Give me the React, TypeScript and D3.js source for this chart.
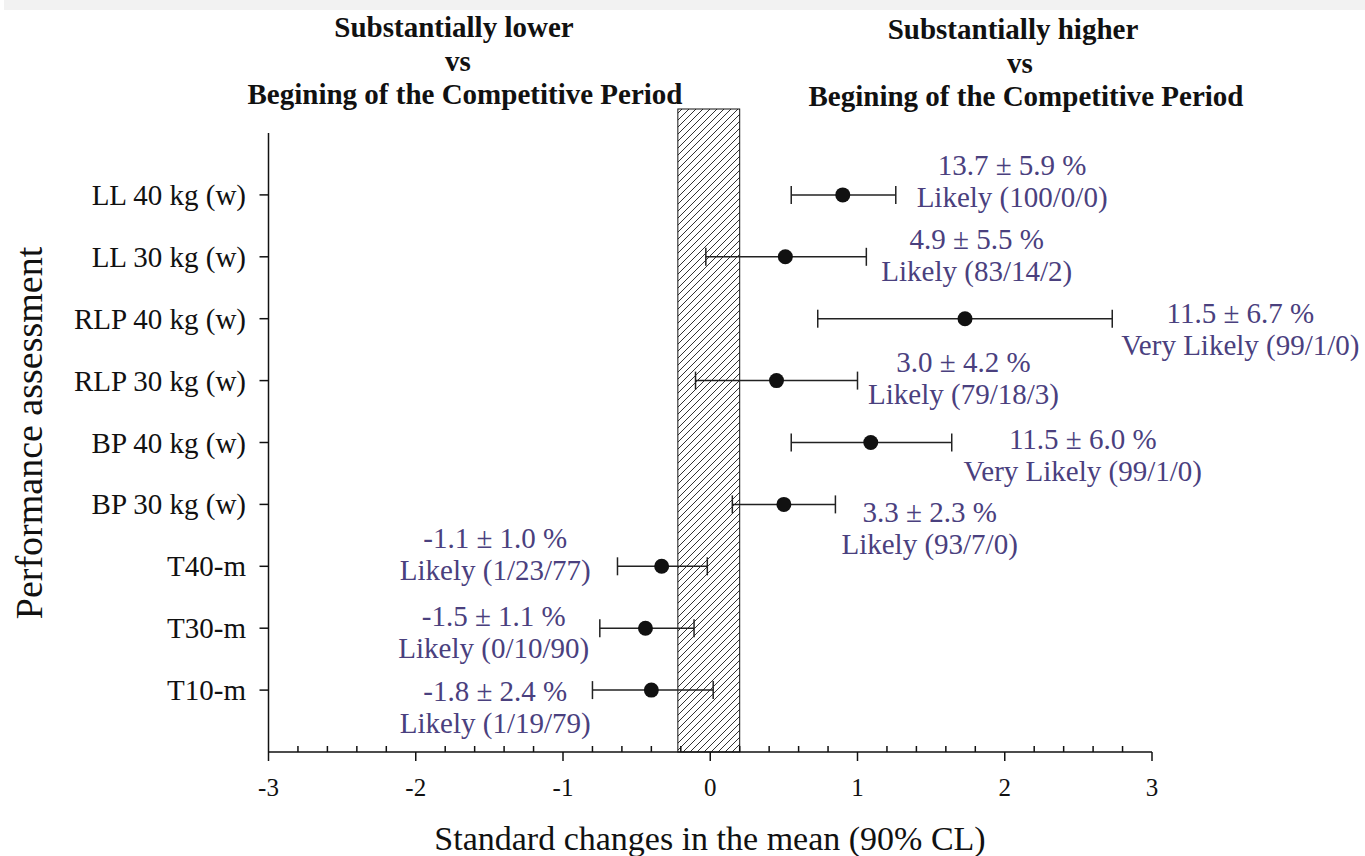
import React from 'react';
import * as d3 from 'd3';

// performance tests, top to bottom
const categories = [
  'LL 40 kg (w)',
  'LL 30 kg (w)',
  'RLP 40 kg (w)',
  'RLP 30 kg (w)',
  'BP 40 kg (w)',
  'BP 30 kg (w)',
  'T40-m',
  'T30-m',
  'T10-m',
];

// standardised change and 90% CL limits
const means = [0.9, 0.51, 1.73, 0.45, 1.09, 0.5, -0.33, -0.44, -0.4];
const lower = [0.55, -0.03, 0.73, -0.1, 0.55, 0.15, -0.63, -0.75, -0.8];
const upper = [1.26, 1.06, 2.73, 1.0, 1.64, 0.85, -0.02, -0.11, 0.02];

const effects = [
  '13.7 ± 5.9 %',
  '4.9 ± 5.5 %',
  '11.5 ± 6.7 %',
  '3.0 ± 4.2 %',
  '11.5 ± 6.0 %',
  '3.3 ± 2.3 %',
  '-1.1 ± 1.0 %',
  '-1.5 ± 1.1 %',
  '-1.8 ± 2.4 %',
];
const inferences = [
  'Likely (100/0/0)',
  'Likely (83/14/2)',
  'Very Likely (99/1/0)',
  'Likely (79/18/3)',
  'Very Likely (99/1/0)',
  'Likely (93/7/0)',
  'Likely (1/23/77)',
  'Likely (0/10/90)',
  'Likely (1/19/79)',
];

// where each note sits (x in data units, y shift in category steps)
const noteX = [2.05, 1.81, 3.6, 1.72, 2.53, 1.49, -1.46, -1.47, -1.46];
const noteShift = [-0.48, -0.29, -0.09, -0.3, -0.05, 0.12, -0.46, -0.2, 0.01];

const xTicks = [-3, -2, -1, 0, 1, 2, 3];
const trivialZone = [-0.22, 0.2];

const W = 1365;
const H = 856;
const serif = '"Liberation Serif", "Times New Roman", serif';
const noteColor = '#4a407e';

export default function App() {
  const x = d3.scaleLinear().domain([-3, 3]).range([268.5, 1152]);
  const y = d3.scalePoint<string>().domain(categories).range([133, 752]).padding(1);
  const step = y.step();
  const top = 133;
  const bottom = 752;

  const minor = d3.range(-3, 3.001, 0.2).filter((v) => Math.abs(v - Math.round(v)) > 0.01);

  const noteFs = 29;

  return (
    <svg
      width={W}
      height={H}
      style={{ position: 'absolute', left: 0, top: 0, background: '#fff' }}
      fontFamily={serif}
    >
      <defs>
        <pattern id="hatch" patternUnits="userSpaceOnUse" width={7} height={7}>
          <path d="M-1,1 l2,-2 M0,7 l7,-7 M6,8 l2,-2" stroke="#333" strokeWidth={1} />
        </pattern>
      </defs>
      <rect x={4} y={0} width={W - 4} height={10} fill="#f2f2f2" />

      {/* headings */}
      <g fontWeight="bold" fontSize={29} textAnchor="middle" fill="#111">
        <text x={454} y={37}>Substantially lower</text>
        <text x={458} y={71}>vs</text>
        <text x={465} y={104}>Begining of the Competitive Period</text>
        <text x={1013} y={39}>Substantially higher</text>
        <text x={1020} y={73}>vs</text>
        <text x={1026} y={106}>Begining of the Competitive Period</text>
      </g>

      {/* trivial zone */}
      <rect
        x={x(trivialZone[0])}
        y={109}
        width={x(trivialZone[1]) - x(trivialZone[0])}
        height={bottom - 109}
        fill="url(#hatch)"
        stroke="#111"
        strokeWidth={1}
      />

      {/* axes */}
      <g stroke="#111" strokeWidth={1.5} fill="none">
        <line x1={x(-3)} x2={x(-3)} y1={top} y2={bottom} />
        <line x1={x(-3)} x2={x(3)} y1={bottom} y2={bottom} />
        {categories.map((c) => (
          <line key={c} x1={x(-3) - 9} x2={x(-3)} y1={y(c)} y2={y(c)} />
        ))}
        {xTicks.map((t) => (
          <line key={t} x1={x(t)} x2={x(t)} y1={bottom} y2={bottom + 9} />
        ))}
        {minor.map((t) => (
          <line key={t} x1={x(t)} x2={x(t)} y1={bottom} y2={bottom - 6} />
        ))}
      </g>
      <g fontSize={25} textAnchor="middle" fill="#111">
        {xTicks.map((t) => (
          <text key={t} x={x(t)} y={796}>
            {t}
          </text>
        ))}
      </g>
      <g fontSize={29} textAnchor="end" fill="#111">
        {categories.map((c) => (
          <text key={c} x={246} y={(y(c) as number) + 10}>
            {c}
          </text>
        ))}
      </g>
      <text x={710} y={850} fontSize={34} textAnchor="middle" fill="#111">
        Standard changes in the mean (90% CL)
      </text>
      <text
        transform={`translate(42,433) rotate(-90)`}
        fontSize={38}
        textAnchor="middle"
        fill="#111"
      >
        Performance assessment
      </text>

      {/* error bars */}
      {categories.map((c, i) => {
        const cy = y(c) as number;
        return (
          <g key={c} stroke="#222" strokeWidth={1.5}>
            <line x1={x(lower[i])} x2={x(upper[i])} y1={cy} y2={cy} />
            <line x1={x(lower[i])} x2={x(lower[i])} y1={cy - 9} y2={cy + 9} />
            <line x1={x(upper[i])} x2={x(upper[i])} y1={cy - 9} y2={cy + 9} />
            <circle cx={x(means[i])} cy={cy} r={7.5} fill="#111" stroke="none" />
          </g>
        );
      })}

      {/* notes */}
      <g fontSize={noteFs} textAnchor="middle" fill={noteColor}>
        {categories.map((c, i) => {
          const cy = (y(c) as number) + noteShift[i] * step + noteFs * 0.34;
          return (
            <g key={c}>
              <text x={x(noteX[i])} y={cy}>
                {effects[i]}
              </text>
              <text x={x(noteX[i])} y={cy + 32}>
                {inferences[i]}
              </text>
            </g>
          );
        })}
      </g>
    </svg>
  );
}
